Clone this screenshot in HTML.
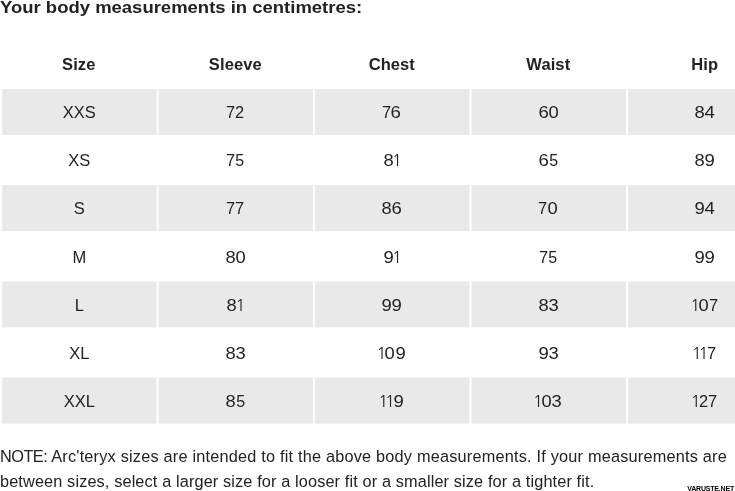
<!DOCTYPE html>
<html><head><meta charset="utf-8">
<style>
html,body{margin:0;padding:0;background:#fff;}
body{width:735px;height:491px;overflow:hidden;position:relative;font-family:"Liberation Sans",sans-serif;color:#222;}
.bg{position:absolute;left:0;top:0;}
.title{position:absolute;left:0;top:-2px;font-weight:bold;font-size:17px;line-height:20px;white-space:nowrap;transform-origin:0 0;transform:scaleX(1.087);}
.c,.h{position:absolute;width:120px;height:20px;line-height:20px;text-align:center;font-size:16.5px;white-space:nowrap;}
.h{font-weight:bold;font-size:16.5px;letter-spacing:.1px;}
.c i{font-style:normal;display:inline-block;line-height:0;}
.c i.o{font-family:"NanumGothic","Liberation Sans",sans-serif;}
.note{position:absolute;left:0;font-size:16.3px;line-height:20px;white-space:nowrap;letter-spacing:.205px;}
.wm{position:absolute;right:1px;top:485px;font-size:7px;font-weight:bold;line-height:8px;letter-spacing:-0.2px;color:#000;white-space:nowrap;}
</style></head><body>
<svg class="bg" width="735" height="491" viewBox="0 0 735 491">
<rect x="2.10" y="89.00" width="154.4" height="46.0" fill="#e9e9e9"/>
<rect x="158.60" y="89.00" width="154.4" height="46.0" fill="#e9e9e9"/>
<rect x="315.10" y="89.00" width="154.4" height="46.0" fill="#e9e9e9"/>
<rect x="471.60" y="89.00" width="154.4" height="46.0" fill="#e9e9e9"/>
<rect x="628.10" y="89.00" width="154.4" height="46.0" fill="#e9e9e9"/>
<rect x="2.10" y="185.20" width="154.4" height="46.0" fill="#e9e9e9"/>
<rect x="158.60" y="185.20" width="154.4" height="46.0" fill="#e9e9e9"/>
<rect x="315.10" y="185.20" width="154.4" height="46.0" fill="#e9e9e9"/>
<rect x="471.60" y="185.20" width="154.4" height="46.0" fill="#e9e9e9"/>
<rect x="628.10" y="185.20" width="154.4" height="46.0" fill="#e9e9e9"/>
<rect x="2.10" y="281.40" width="154.4" height="46.0" fill="#e9e9e9"/>
<rect x="158.60" y="281.40" width="154.4" height="46.0" fill="#e9e9e9"/>
<rect x="315.10" y="281.40" width="154.4" height="46.0" fill="#e9e9e9"/>
<rect x="471.60" y="281.40" width="154.4" height="46.0" fill="#e9e9e9"/>
<rect x="628.10" y="281.40" width="154.4" height="46.0" fill="#e9e9e9"/>
<rect x="2.10" y="377.60" width="154.4" height="46.0" fill="#e9e9e9"/>
<rect x="158.60" y="377.60" width="154.4" height="46.0" fill="#e9e9e9"/>
<rect x="315.10" y="377.60" width="154.4" height="46.0" fill="#e9e9e9"/>
<rect x="471.60" y="377.60" width="154.4" height="46.0" fill="#e9e9e9"/>
<rect x="628.10" y="377.60" width="154.4" height="46.0" fill="#e9e9e9"/>
</svg>
<div class="title">Your body measurements in centimetres:</div>
<div class="h" style="left:18.80px;top:54px">Size</div>
<div class="h" style="left:175.30px;top:54px">Sleeve</div>
<div class="h" style="left:331.80px;top:54px">Chest</div>
<div class="h" style="left:488.30px;top:54px">Waist</div>
<div class="h" style="left:644.80px;top:54px">Hip</div>
<div class="c" style="left:19.30px;top:102px">XXS</div>
<div class="c" style="left:174.80px;top:102px"><i style="margin:0 -0.04px 0 -0.04px;transform:scaleX(0.992)">7</i><i style="margin:0 -0.04px 0 -0.04px;transform:scaleX(0.992)">2</i></div>
<div class="c" style="left:331.30px;top:102px"><i style="margin:0 -0.04px 0 -0.04px;transform:scaleX(0.992)">7</i><i style="margin:0 0.56px 0 0.56px;transform:scaleX(1.123)">6</i></div>
<div class="c" style="left:488.30px;top:102px"><i style="margin:0 0.56px 0 0.56px;transform:scaleX(1.123)">6</i><i style="margin:0 0.51px 0 0.51px;transform:scaleX(1.112)">0</i></div>
<div class="c" style="left:644.80px;top:102px"><i style="margin:0 0.51px 0 0.51px;transform:scaleX(1.112)">8</i><i style="margin:0 0.61px 0 0.61px;transform:scaleX(1.134)">4</i></div>
<div class="c" style="left:19.30px;top:150px">XS</div>
<div class="c" style="left:174.80px;top:150px"><i style="margin:0 -0.04px 0 -0.04px;transform:scaleX(0.992)">7</i><i style="margin:0 -0.14px 0 -0.14px;transform:scaleX(0.970)">5</i></div>
<div class="c" style="left:331.80px;top:150px"><i style="margin:0 0.51px 0 0.51px;transform:scaleX(1.112)">8</i><i class="o" style="margin:0 -1.63px 0 -1.63px">1</i></div>
<div class="c" style="left:488.30px;top:150px"><i style="margin:0 0.56px 0 0.56px;transform:scaleX(1.123)">6</i><i style="margin:0 -0.14px 0 -0.14px;transform:scaleX(0.970)">5</i></div>
<div class="c" style="left:644.80px;top:150px"><i style="margin:0 0.51px 0 0.51px;transform:scaleX(1.112)">8</i><i style="margin:0 0.56px 0 0.56px;transform:scaleX(1.123)">9</i></div>
<div class="c" style="left:19.30px;top:198px">S</div>
<div class="c" style="left:174.80px;top:198px"><i style="margin:0 -0.04px 0 -0.04px;transform:scaleX(0.992)">7</i><i style="margin:0 -0.04px 0 -0.04px;transform:scaleX(0.992)">7</i></div>
<div class="c" style="left:331.80px;top:198px"><i style="margin:0 0.51px 0 0.51px;transform:scaleX(1.112)">8</i><i style="margin:0 0.56px 0 0.56px;transform:scaleX(1.123)">6</i></div>
<div class="c" style="left:487.80px;top:198px"><i style="margin:0 -0.04px 0 -0.04px;transform:scaleX(0.992)">7</i><i style="margin:0 0.51px 0 0.51px;transform:scaleX(1.112)">0</i></div>
<div class="c" style="left:644.80px;top:198px"><i style="margin:0 0.56px 0 0.56px;transform:scaleX(1.123)">9</i><i style="margin:0 0.61px 0 0.61px;transform:scaleX(1.134)">4</i></div>
<div class="c" style="left:19.30px;top:247px">M</div>
<div class="c" style="left:175.30px;top:247px"><i style="margin:0 0.51px 0 0.51px;transform:scaleX(1.112)">8</i><i style="margin:0 0.51px 0 0.51px;transform:scaleX(1.112)">0</i></div>
<div class="c" style="left:331.80px;top:247px"><i style="margin:0 0.56px 0 0.56px;transform:scaleX(1.123)">9</i><i class="o" style="margin:0 -1.63px 0 -1.63px">1</i></div>
<div class="c" style="left:487.80px;top:247px"><i style="margin:0 -0.04px 0 -0.04px;transform:scaleX(0.992)">7</i><i style="margin:0 -0.14px 0 -0.14px;transform:scaleX(0.970)">5</i></div>
<div class="c" style="left:644.80px;top:247px"><i style="margin:0 0.56px 0 0.56px;transform:scaleX(1.123)">9</i><i style="margin:0 0.56px 0 0.56px;transform:scaleX(1.123)">9</i></div>
<div class="c" style="left:19.30px;top:295px">L</div>
<div class="c" style="left:175.30px;top:295px"><i style="margin:0 0.51px 0 0.51px;transform:scaleX(1.112)">8</i><i class="o" style="margin:0 -1.63px 0 -1.63px">1</i></div>
<div class="c" style="left:331.80px;top:295px"><i style="margin:0 0.56px 0 0.56px;transform:scaleX(1.123)">9</i><i style="margin:0 0.56px 0 0.56px;transform:scaleX(1.123)">9</i></div>
<div class="c" style="left:488.30px;top:295px"><i style="margin:0 0.51px 0 0.51px;transform:scaleX(1.112)">8</i><i style="margin:0 0.51px 0 0.51px;transform:scaleX(1.112)">3</i></div>
<div class="c" style="left:644.80px;top:295px"><i class="o" style="margin:0 -1.63px 0 -1.63px">1</i><i style="margin:0 0.51px 0 0.51px;transform:scaleX(1.112)">0</i><i style="margin:0 -0.04px 0 -0.04px;transform:scaleX(0.992)">7</i></div>
<div class="c" style="left:19.30px;top:343px">XL</div>
<div class="c" style="left:175.30px;top:343px"><i style="margin:0 0.51px 0 0.51px;transform:scaleX(1.112)">8</i><i style="margin:0 0.51px 0 0.51px;transform:scaleX(1.112)">3</i></div>
<div class="c" style="left:331.80px;top:343px"><i class="o" style="margin:0 -1.63px 0 -1.63px">1</i><i style="margin:0 0.51px 0 0.51px;transform:scaleX(1.112)">0</i><i style="margin:0 0.56px 0 0.56px;transform:scaleX(1.123)">9</i></div>
<div class="c" style="left:488.30px;top:343px"><i style="margin:0 0.56px 0 0.56px;transform:scaleX(1.123)">9</i><i style="margin:0 0.51px 0 0.51px;transform:scaleX(1.112)">3</i></div>
<div class="c" style="left:644.80px;top:343px"><i class="o" style="margin:0 -1.63px 0 -1.63px">1</i><i class="o" style="margin:0 -1.63px 0 -1.63px">1</i><i style="margin:0 -0.04px 0 -0.04px;transform:scaleX(0.992)">7</i></div>
<div class="c" style="left:19.30px;top:391px">XXL</div>
<div class="c" style="left:175.30px;top:391px"><i style="margin:0 0.51px 0 0.51px;transform:scaleX(1.112)">8</i><i style="margin:0 -0.14px 0 -0.14px;transform:scaleX(0.970)">5</i></div>
<div class="c" style="left:331.80px;top:391px"><i class="o" style="margin:0 -1.63px 0 -1.63px">1</i><i class="o" style="margin:0 -1.63px 0 -1.63px">1</i><i style="margin:0 0.56px 0 0.56px;transform:scaleX(1.123)">9</i></div>
<div class="c" style="left:488.30px;top:391px"><i class="o" style="margin:0 -1.63px 0 -1.63px">1</i><i style="margin:0 0.51px 0 0.51px;transform:scaleX(1.112)">0</i><i style="margin:0 0.51px 0 0.51px;transform:scaleX(1.112)">3</i></div>
<div class="c" style="left:644.80px;top:391px"><i class="o" style="margin:0 -1.63px 0 -1.63px">1</i><i style="margin:0 -0.04px 0 -0.04px;transform:scaleX(0.992)">2</i><i style="margin:0 -0.04px 0 -0.04px;transform:scaleX(0.992)">7</i></div>
<div class="note" style="top:446px"><span style="letter-spacing:-.5px">NOTE: </span>Arc'teryx sizes are intended to fit the above body measurements. If your measurements are</div>
<div class="note" style="top:471px;letter-spacing:.13px">between sizes, select a larger size for a looser fit or a smaller size for a tighter fit.</div>
<div class="wm">VARUSTE.NET</div>
</body></html>
